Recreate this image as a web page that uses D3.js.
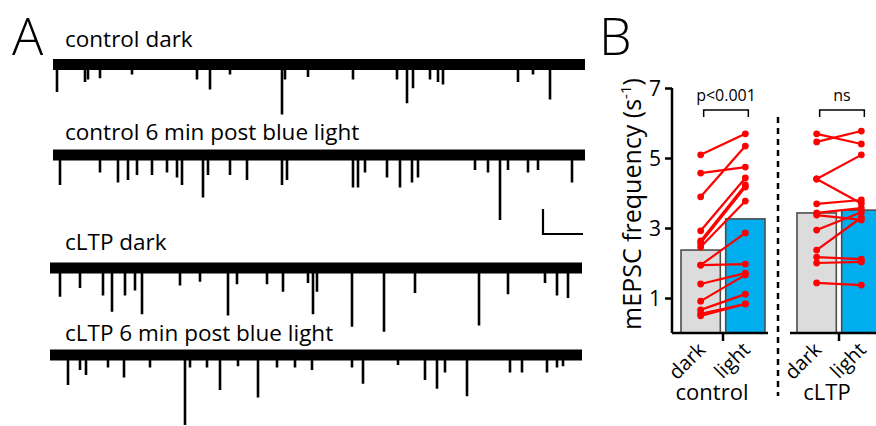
<!DOCTYPE html>
<html>
<head>
<meta charset="utf-8">
<script src="https://cdn.jsdelivr.net/npm/d3@7/dist/d3.min.js"></script>
<style>
  html, body { margin: 0; padding: 0; background: #fff; }
  svg { display: block; font-family: "Open Sans", sans-serif; }
</style>
</head>
<body>
<script>
// ---------------- DATA ----------------
// Panel A: mEPSC traces (event times in s, amplitudes in pA)
const traceLabels = ["control dark", "control 6 min post blue light", "cLTP dark", "cLTP 6 min post blue light"];
const traceDuration = 26.6; // s
const trace1Times = [0.2, 1.6, 1.75, 2.35, 3.95, 7.2, 7.85, 8.85, 11.45, 11.6, 12.75, 15.0, 17.2, 17.7, 18.0, 18.85, 19.25, 19.5, 23.25, 24.0, 24.85];
const trace1Amps  = [22, 14, 12, 11, 8, 12, 20, 8, 40, 12, 10, 12, 12, 31, 19, 12, 14, 16, 14, 8, 28];
const trace2Times = [0.35, 2.35, 3.25, 3.75, 4.2, 4.95, 5.7, 6.2, 6.45, 7.5, 7.75, 8.85, 9.7, 11.45, 11.7, 15.0, 15.25, 15.6, 16.7, 17.35, 17.95, 18.25, 21.1, 21.75, 22.35, 22.75, 23.75, 24.25, 25.95];
const trace2Amps  = [24, 14, 22, 20, 16, 16, 14, 18, 24, 34, 16, 16, 20, 24, 20, 26, 26, 14, 18, 26, 22, 18, 12, 14, 52, 12, 14, 12, 22];
const trace3Times = [0.5, 1.5, 2.65, 3.1, 3.75, 4.25, 4.6, 6.5, 7.5, 8.9, 9.35, 10.85, 11.65, 12.9, 13.15, 13.35, 15.1, 16.7, 18.25, 21.45, 22.9, 24.75, 25.35, 25.9];
const trace3Amps  = [23, 16, 22, 35, 22, 18, 37, 14, 11, 38, 13, 13, 19, 12, 37, 19, 47, 51, 20, 46, 21, 12, 22, 24];
const trace4Times = [0.9, 1.5, 1.8, 2.9, 3.7, 5.0, 6.75, 7.0, 7.85, 8.5, 9.4, 10.4, 11.35, 12.25, 13.1, 15.1, 15.65, 17.4, 18.75, 19.35, 19.75, 20.85, 23.0, 23.6, 24.85, 25.35, 25.65];
const trace4Amps  = [24, 12, 16, 10, 18, 10, 56, 10, 10, 28, 9, 34, 10, 10, 12, 10, 23, 8, 20, 27, 14, 33, 14, 14, 14, 10, 9];
const scaleBarPA = 20;  // pA
const scaleBarS = 2;    // s

// Panel B: mEPSC frequency (s^-1)
const conditions = ["dark", "light"];
const groups = ["control", "cLTP"];
const controlMeans = [2.37, 3.26];
const cltpMeans = [3.43, 3.51];
const controlDark  = [5.09, 4.57, 3.89, 2.92, 2.63, 2.57, 2.46, 1.94, 1.94, 1.40, 0.91, 0.66, 0.55, 0.49];
const controlLight = [5.69, 4.74, 5.34, 4.43, 4.23, 4.17, 3.77, 2.86, 1.97, 1.71, 1.66, 1.11, 0.83, 0.83];
const cltpDark  = [5.69, 5.46, 4.40, 4.40, 3.69, 3.43, 3.37, 2.94, 2.37, 2.17, 2.00, 1.43];
const cltpLight = [5.40, 5.77, 5.09, 3.70, 3.80, 3.57, 3.23, 3.45, 3.30, 2.11, 2.03, 1.37];
const yTicks = [1, 3, 5, 7];
const sigLabels = ["p<0.001", "ns"];

// ---------------- DRAW ----------------
const W = 876, H = 426;
const svg = d3.select("body").append("svg").attr("width", W).attr("height", H);

// ===== Panel A =====
svg.append("text").attr("x", 12).attr("y", 55).attr("font-size", 52).attr("font-weight", 300).text("A");

const traces = [
  {times: trace1Times, amps: trace1Amps, x0: 53, cy: 64.5, ly: 47},
  {times: trace2Times, amps: trace2Amps, x0: 53, cy: 155, ly: 140},
  {times: trace3Times, amps: trace3Amps, x0: 50, cy: 268, ly: 250},
  {times: trace4Times, amps: trace4Amps, x0: 50, cy: 355, ly: 341}
];
const pxPerS = 20, pxPerPA = 1.25;

traces.forEach((tr, i) => {
  const x = d3.scaleLinear().domain([0, traceDuration]).range([tr.x0, tr.x0 + traceDuration * pxPerS]);
  const y = d3.scaleLinear().domain([0, 60]).range([tr.cy, tr.cy + 60 * pxPerPA]);
  const g = svg.append("g");
  g.append("text").attr("x", 65).attr("y", tr.ly).attr("font-size", 22.5).text(traceLabels[i]);
  // baseline noise band
  g.append("line")
    .attr("x1", x(0)).attr("x2", x(traceDuration))
    .attr("y1", y(0)).attr("y2", y(0))
    .attr("stroke", "#000").attr("stroke-width", 11);
  // events
  g.selectAll("line.ev").data(tr.times.map((t, k) => [t, tr.amps[k]])).join("line")
    .attr("class", "ev")
    .attr("x1", d => x(d[0])).attr("x2", d => x(d[0]))
    .attr("y1", y(0)).attr("y2", d => y(d[1]))
    .attr("stroke", "#000").attr("stroke-width", 2.6);
});

// scale bar
{
  const sx = 543, sy = 234;
  svg.append("path")
    .attr("d", `M${sx},${sy - scaleBarPA * pxPerPA}V${sy}H${sx + scaleBarS * pxPerS}`)
    .attr("fill", "none").attr("stroke", "#000").attr("stroke-width", 2.2);
}

// ===== Panel B =====
svg.append("text").attr("x", 599).attr("y", 55).attr("font-size", 52).attr("font-weight", 300).text("B");

const y = d3.scaleLinear().domain([0, 7]).range([333, 88]);
const panels = [
  {name: groups[0], means: controlMeans, dark: controlDark, light: controlLight, range: [681, 765], axis: [672, 768], labelX: 712, sig: sigLabels[0]},
  {name: groups[1], means: cltpMeans, dark: cltpDark, light: cltpLight, range: [797, 881], axis: [790, 880], labelX: 827, sig: sigLabels[1]}
];

// y axis
const yAxisG = svg.append("g").attr("transform", "translate(672,0)")
  .call(d3.axisLeft(y).tickValues(yTicks).tickSize(7).tickPadding(4).tickFormat(d3.format("d")));
yAxisG.select(".domain").attr("stroke-width", 2.5).attr("d", `M0,${y(0)}V${y(7)}`);
yAxisG.selectAll(".tick line").attr("stroke-width", 2.5);
yAxisG.selectAll(".tick text").attr("font-size", 21).attr("font-family", "Open Sans").attr("dy", "0.36em");

svg.append("text")
  .attr("transform", `translate(641,${(333 + 75) / 2}) rotate(-90)`)
  .attr("text-anchor", "middle").attr("font-size", 25)
  .call(t => {
    t.append("tspan").text("mEPSC frequency (s");
    t.append("tspan").attr("font-size", 15).attr("dy", -10).text("-1");
    t.append("tspan").attr("dy", 10).text(")");
  });

panels.forEach(p => {
  const x = d3.scaleBand().domain(conditions).range(p.range).paddingInner(0.12);
  const g = svg.append("g");
  // bars
  g.selectAll("rect").data(conditions).join("rect")
    .attr("x", d => x(d)).attr("width", x.bandwidth())
    .attr("y", (d, i) => y(p.means[i])).attr("height", (d, i) => y(0) - y(p.means[i]))
    .attr("fill", (d, i) => i === 0 ? "#dcdcdc" : "#00aeef")
    .attr("stroke", "#4d4d4d").attr("stroke-width", 1.6);
  // x axis baseline and tick
  g.append("line").attr("x1", p.axis[0]).attr("x2", p.axis[1]).attr("y1", y(0)).attr("y2", y(0))
    .attr("stroke", "#000").attr("stroke-width", 2.5);
  const mid = (x("dark") + x.bandwidth() + x("light")) / 2;
  g.append("line").attr("x1", mid).attr("x2", mid).attr("y1", y(0)).attr("y2", y(0) + 8)
    .attr("stroke", "#000").attr("stroke-width", 2.5);
  // paired lines and points
  const cx = c => x(c) + x.bandwidth() / 2;
  const pairs = p.dark.map((v, i) => [v, p.light[i]]);
  g.selectAll("line.pair").data(pairs).join("line").attr("class", "pair")
    .attr("x1", cx("dark")).attr("x2", cx("light"))
    .attr("y1", d => y(d[0])).attr("y2", d => y(d[1]))
    .attr("stroke", "#ff0000").attr("stroke-width", 2.2);
  g.selectAll("circle.d").data(p.dark).join("circle").attr("class", "d")
    .attr("cx", cx("dark")).attr("cy", d => y(d)).attr("r", 3.4).attr("fill", "#ff0000");
  g.selectAll("circle.l").data(p.light).join("circle").attr("class", "l")
    .attr("cx", cx("light")).attr("cy", d => y(d)).attr("r", 3.4).attr("fill", "#ff0000");
  // x tick labels (rotated)
  conditions.forEach(c => {
    g.append("text")
      .attr("transform", `translate(${cx(c) + 6},351) rotate(-45)`)
      .attr("text-anchor", "end").attr("font-size", 20).text(c);
  });
  // group label
  g.append("text").attr("x", p.labelX).attr("y", 400).attr("text-anchor", "middle").attr("font-size", 22).text(p.name);
  // significance bracket
  const bx1 = cx("dark") + 3, bx2 = cx("light") + 3;
  g.append("path").attr("d", `M${bx1},117V110H${bx2}V117`)
    .attr("fill", "none").attr("stroke", "#000").attr("stroke-width", 1.5);
  g.append("text").attr("x", (bx1 + bx2) / 2).attr("y", 101).attr("text-anchor", "middle")
    .attr("font-size", 16).text(p.sig);
});

// dashed separator
svg.append("line").attr("x1", 778).attr("x2", 778).attr("y1", 117).attr("y2", 396)
  .attr("stroke", "#000").attr("stroke-width", 2.5).attr("stroke-dasharray", "6,5");
</script>
</body>
</html>
